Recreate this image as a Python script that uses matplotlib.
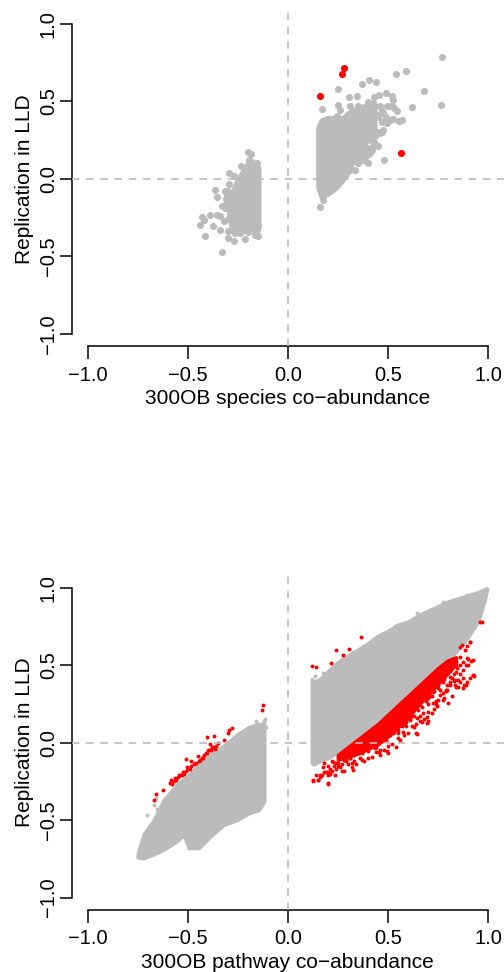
import matplotlib
matplotlib.use('Agg')
import matplotlib.pyplot as plt

plt.rcParams['font.family'] = ['Liberation Sans', 'DejaVu Sans']

GRAY = '#bbbbbb'
RED = '#ff0000'
ticks = [-1.0, -0.5, 0.0, 0.5, 1.0]
tick_labels = ['\u22121.0', '\u22120.5', '0.0', '0.5', '1.0']

# species panel: overplotted core, read as envelope of dot centres per x column
sp_right_x = [.155, .17, .20, .24, .28, .30, .33, .36, .40, .43]
sp_right_low = [-.05, -.11, -.09, -.05, .01, .05, .15, .20, .26, .33]
sp_right_high = [.33, .375, .39, .39, .39, .42, .44, .46, .47, .47]
sp_left_x = [-.28, -.25, -.21, -.19, -.16, -.15]
sp_left_low = [-.31, -.33, -.33, -.33, -.33, -.32]
sp_left_high = [-.11, -.01, .07, .12, .09, .07]

sp_gray_x = [.768, .59, .54, .68, .765, .62, .407, .442, .371, .253, .304, .344, .171, .489, .455, .43, .519, .524, .402, .544, .572, .557, .524, .519, .494, .482,
             .253, .261, .244, .311, .319, .352, .386, .411, .436, .46, .402, .427, .477, .444, .485, .494, .427, .394, .436, .46, .474, .414, .452, .419, .394, .377, .352, .336, .311, .294, .402, .336, .369, .278, .253, .211, .178, .161, .17,
             .31, .33, .36, .385, .41, .42, .43, .47, .50, .53, .51, .49, .47, .45, .43, .41, .45, .47, .43, .44, .40, .38, .36,
             -.362, -.354, -.294, -.271, -.296, -.234, -.201, -.185, -.196, -.155, -.44, -.429, -.417, -.391, -.412, -.374, -.341, -.354, -.337, -.318, -.329, -.313, -.299, -.299, -.271, -.216, -.328, -.163, -.151, -.263, -.313, -.304,
             -.30, -.31, -.305, -.31, -.29, -.30, -.27, -.24, -.20, -.19, -.16, -.15]
sp_gray_y = [.79, .697, .677, .568, .48, .467, .639, .624, .613, .578, .531, .533, .449, .555, .54, .531, .533, .512, .499, .437, .383, .376, .389, .473, .473, .12,
             .48, .447, .404, .469, .426, .469, .447, .469, .469, .469, .49, .49, .426, .415, .372, .361, .361, .307, .275, .297, .314, .254, .211, .189, .157, .125, .103, .056, .06, .092, .103, .114, .178, .017, -.022, -.069, -.133, -.181, -.09,
             .09, .13, .13, .14, .17, .20, .225, .44, .47, .46, .38, .40, .37, .40, .42, .41, .30, .30, .24, .22, .20, .18, .16,
             -.069, -.116, .039, .017, -.032, .082, .174, .163, .125, .103, -.30, -.245, -.262, -.23, -.37, -.305, -.327, -.23, -.24, -.273, -.176, -.187, -.338, -.383, -.398, -.385, -.469, -.359, -.366, -.348, -.08, -.112,
             -.08, -.13, -.19, -.16, -.22, -.26, -.34, -.35, -.34, -.33, -.35, -.30]
sp_red_x = [.163, .27, .28, .563]
sp_red_y = [.535, .68, .715, .17]

# pathway panel: the two gray clouds are solid, so read as envelopes too
pw_right_x = [.12, .13, .16, .20, .25, .30, .35, .40, .45, .50, .55, .60, .65, .70, .75, .80, .85, .90, .95, .985, .995]
pw_right_low = [-.13, -.14, -.12, -.10, -.06, -.02, .02, .07, .12, .17, .22, .29, .35, .41, .47, .53, .60, .68, .78, .93, .99]
pw_right_high = [.41, .39, .41, .46, .52, .56, .60, .64, .69, .72, .76, .78, .82, .85, .88, .91, .93, .95, .97, .99, .995]
pw_left_x = [-.75, -.72, -.67, -.62, -.554, -.52, -.495, -.445, -.388, -.32, -.255, -.195, -.146, -.118]
pw_left_low = [-.74, -.745, -.72, -.69, -.635, -.595, -.68, -.68, -.605, -.53, -.50, -.455, -.435, -.38]
pw_left_high = [-.72, -.59, -.50, -.37, -.27, -.235, -.21, -.14, -.08, -.02, .05, .10, .12, .12]

pw_gray_x = [.643, .618, .535, .502, .452, .411, .377, .328, .278, .228, .178, .136, .776, .826, .893, .926, .909,
             -.703, -.67, -.655, -.66, -.17, -.16, -.12, -.115, -.11]
pw_gray_y = [.838, .78, .755, .722, .667, .652, .624, .587, .523, .487, .448, .427, .909, .92, .952, .737, .716,
             -.47, -.40, -.43, -.36, .11, .14, .14, .15, .10]

pw_band_x = [.25, .3, .35, .4, .45, .5, .55, .6, .65, .7, .75, .8, .84]
pw_band_low = [-.11, -.09, -.07, -.04, -.01, .04, .10, .16, .24, .31, .38, .45, .51]
pw_band_high = [-.08, -.03, .02, .07, .12, .18, .24, .30, .36, .42, .48, .53, .55]

pw_red_x = [.12, .14, .239, .308, .367, .218, .278, .959, .968, .909, .893, .868, .925, .93, .915, .90, .89, .875, .86, .845, .83, .81, .79, .88, .85, .82, .78, .76, .74, .72, .70, .68, .66, .64, .77, .73, .70, .67, .64, .62, .60, .58, .56, .54, .52, .50, .48, .46, .44, .42, .40, .38, .36, .34, .32, .30, .28, .26, .24, .22, .20, .18, .16, .14, .128, .15, .17, .19, .21, .23, .25, .27, .29, .31, .33, .35, .37, .39, .41, .43, .45, .47, .49, .51, .53, .55, .57, .59, .61, .63, .65, .67, .69, .71, .73, .75, .44, .46, .48, .50, .64, .63, .58, .55, .20,
            .926, .909, .888, .876, .893, .859, .834, .809, .793, .842, .801, .776, .751, .726, .743, .718, .693, .676, .643, .61, .577, .693, .577, .643, .527, .502, .494, .457, .502, .435, .402, .369, .327, .319, .269, .236, .203, .203, .153, .128, .161, .178, .228, .277, .344, .311, .36,
            .859, .884, .909, .893, .876, .926, .901, .859, .876, .842, .809, .776, .76, .726, .701, .776, .793, .818, .834, .851,
            .18, .20, .22, .24, .26, .28, .21, .25, .29, .33, .37, .41, .44, .48, .52, .56, .60, .63, .66, .69, .72, .75, .78, .81, .84, .55, .59, .62, .66, .70, .74, .79, .83, .86,
            -.126, -.13, -.278, -.293, -.30, -.32, -.367, -.404, -.39, -.38, -.67, -.658, -.625, -.509, -.482, -.45, -.59, -.58, -.57, -.56, -.55, -.54, -.53, -.52, -.51, -.50, -.49, -.47, -.46, -.44, -.43, -.42, -.41, -.40, -.39, -.37, -.36, -.35,
            -.585, -.565, -.545, -.525, -.505, -.485, -.465, -.445, -.425, -.405, -.385, -.365]
pw_red_y = [.495, .49, .598, .605, .682, .512, .566, .776, .776, .65, .624, .63, .437, .43, .525, .54, .50, .42, .44, .48, .40, .37, .33, .37, .36, .30, .29, .34, .27, .30, .20, .15, .17, .25, .40, .22, .14, .13, .12, .11, .06, .05, .02, -.03, -.01, -.07, -.05, -.08, -.06, -.09, -.10, -.12, -.10, -.14, -.16, -.14, -.18, -.16, -.17, -.18, -.21, -.19, -.22, -.21, -.245, -.24, -.21, -.19, -.20, -.15, -.13, -.14, -.11, -.10, -.12, -.07, -.07, -.04, -.03, .0, .0, .03, .02, .05, .07, .08, .11, .13, .15, .17, .21, .23, .27, .30, .33, .35, -.03, -.05, .03, .06, .06, .10, .12, .03, -.265,
            .436, .415, .371, .35, .393, .393, .404, .393, .371, .361, .254, .275, .275, .254, .233, .19, .168, .19, .157, .147, .125, .125, .068, .055, .062, .05, -.057, -.063, -.02, -.035, -.057, -.11, -.175, -.131, -.185, -.206, -.19, -.26, -.239, -.239, -.207, -.155, -.122, -.069, -.015, -.1, -.057,
            .618, .597, .65, .543, .522, .533, .5, .5, .468, .457, .425, .393, .308, .329, .286, .318, .34, .414, .371, .404,
            -.13, -.15, -.12, -.13, -.10, -.11, -.17, -.15, -.12, -.08, -.05, -.02, .02, .05, .08, .13, .16, .21, .24, .28, .33, .37, .41, .46, .50, .06, .11, .17, .14, .25, .25, .34, .44, .55,
            .244, .212, .094, .084, .06, .02, .041, .034, -.01, -.03, -.371, -.334, -.309, -.103, -.116, -.084, -.26, -.27, -.25, -.24, -.22, -.21, -.21, -.20, -.18, -.17, -.17, -.14, -.13, -.11, -.10, -.08, -.07, -.05, -.05, -.03, -.02, .0,
            -.24, -.23, -.21, -.19, -.16, -.15, -.13, -.12, -.10, -.07, -.05, -.04]


def setup_axes(ax, xlabel):
    ax.set_xlim(-1.08, 1.08)
    ax.set_ylim(-1.08, 1.08)
    ax.set_xticks(ticks)
    ax.set_xticklabels(tick_labels)
    ax.set_yticks(ticks)
    ax.set_yticklabels(tick_labels, rotation=90, va='center')
    ax.spines['top'].set_visible(False)
    ax.spines['right'].set_visible(False)
    ax.spines['left'].set_bounds(-1, 1)
    ax.spines['bottom'].set_bounds(-1, 1)
    ax.spines['left'].set_linewidth(1.1)
    ax.spines['bottom'].set_linewidth(1.1)
    ax.tick_params(axis='both', length=9, width=1.1, labelsize=14.5, pad=5)
    ax.tick_params(axis='y', pad=1)
    ax.set_xlabel(xlabel, fontsize=15, labelpad=3)
    ax.set_ylabel('Replication in LLD', fontsize=15, labelpad=3.5)
    ax.patch.set_visible(False)
    for line in (ax.axhline(0), ax.axvline(0)):
        line.set(color=GRAY, linewidth=1.2, linestyle=(0, (4.5, 4)), zorder=5, clip_on=True)


W, H = 504, 972
fig = plt.figure(figsize=(W / 100, H / 100), dpi=100)
ax1 = fig.add_axes([71.7 / W, 1 - 346.4 / H, 432.3 / W, 334.8 / H])
ax2 = fig.add_axes([71.7 / W, 1 - 910 / H, 432.3 / W, 334.8 / H])

# species co-abundance
ax1.fill_between(sp_right_x, sp_right_low, sp_right_high, color=GRAY, lw=4.6, joinstyle='round')
ax1.fill_between(sp_left_x, sp_left_low, sp_left_high, color=GRAY, lw=4.6, joinstyle='round')
ax1.scatter(sp_gray_x, sp_gray_y, s=26, color=GRAY, linewidths=0)
ax1.scatter(sp_red_x, sp_red_y, s=26, color=RED, linewidths=0)
setup_axes(ax1, '300OB species co\u2212abundance')

# pathway co-abundance
ax2.fill_between(pw_right_x, pw_right_low, pw_right_high, color=GRAY, lw=2.6, joinstyle='round')
ax2.fill_between(pw_left_x, pw_left_low, pw_left_high, color=GRAY, lw=2.6, joinstyle='round')
ax2.scatter(pw_gray_x, pw_gray_y, s=8, color=GRAY, linewidths=0)
ax2.fill_between(pw_band_x, pw_band_low, pw_band_high, color=RED, lw=2.6, joinstyle='round')
ax2.scatter(pw_red_x, pw_red_y, s=8, color=RED, linewidths=0)
setup_axes(ax2, '300OB pathway co\u2212abundance')

fig.savefig('out.png', dpi=100)
